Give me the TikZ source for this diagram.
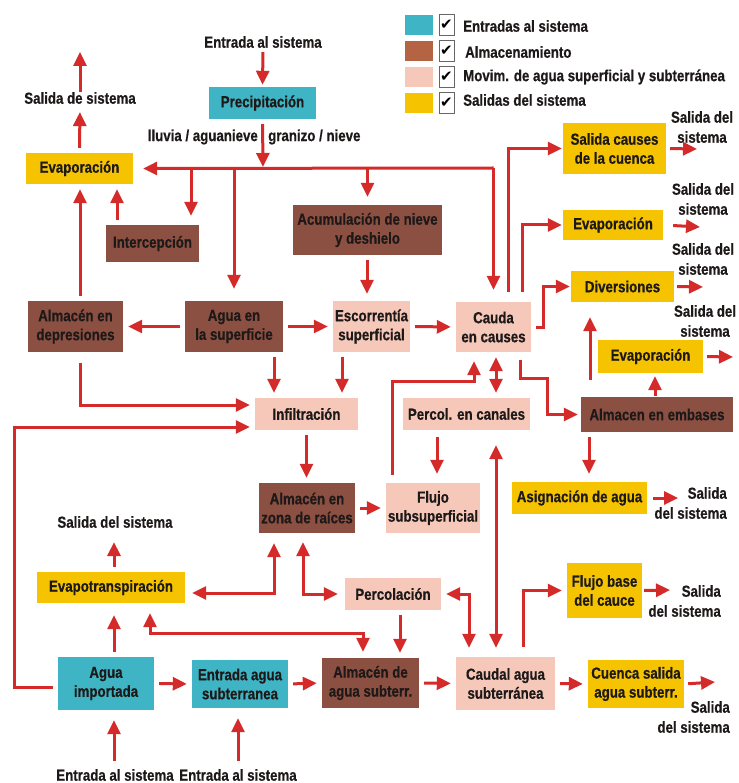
\documentclass[tikz,border=0pt]{standalone}
\usepackage{fontspec}
\setmainfont{Liberation Sans}[FakeStretch=0.83,BoldFeatures={FakeBold=0.6}]
\newfontfamily\symfont{DejaVu Sans}
\usetikzlibrary{arrows.meta,calc}
\definecolor{cteal}{RGB}{62,180,196}
\definecolor{cbrown}{RGB}{140,80,66}
\definecolor{cbrownL}{RGB}{180,100,66}
\definecolor{cpink}{RGB}{246,200,186}
\definecolor{cyellow}{RGB}{245,195,0}
\definecolor{cred}{RGB}{212,42,42}
\definecolor{ctext}{RGB}{30,25,25}
\begin{document}
\begin{tikzpicture}[x=1pt,y=-1pt,
  box/.style={inner sep=0pt, align=center, font=\bfseries\fontsize{16}{19}\selectfont, text=ctext},
  tealbox/.style={box, fill=cteal},
  brownbox/.style={box, fill=cbrown},
  pinkbox/.style={box, fill=cpink},
  yellowbox/.style={box, fill=cyellow},
  lbl/.style={inner sep=0pt, align=center, font=\bfseries\fontsize{16}{20}\selectfont, text=ctext},
  swatch/.style={minimum width=28pt, minimum height=20pt, inner sep=0pt},
  chk/.style={minimum width=15pt, minimum height=21pt, inner sep=0pt, draw=black!60, line width=0.7pt, font=\symfont\fontsize{15}{15}\selectfont},
  arr/.style={draw=cred, line width=3pt, -{Triangle[length=14pt,width=13pt]}, shorten >=5pt, shorten <=5pt},
  arrb/.style={arr, {Triangle[length=14pt,width=13pt]}-{Triangle[length=14pt,width=13pt]}}]
\useasboundingbox (0,0) rectangle (738,783);

% legend
\node[swatch, fill=cteal] (sw1) at (419,25) {};
\node[swatch, fill=cbrownL] (sw2) at (419,51) {};
\node[swatch, fill=cpink] (sw3) at (419,77) {};
\node[swatch, fill=cyellow] (sw4) at (419,103) {};
\node[chk] (c1) at (446.5,25) {✔};
\node[chk] (c2) at (446.5,51) {✔};
\node[chk] (c3) at (446.5,77) {✔};
\node[chk] (c4) at (446.5,103) {✔};
\node[lbl, anchor=west] (l1) at (463,26) {Entradas al sistema};
\node[lbl, anchor=west] (l2) at (465,52) {Almacenamiento};
\node[lbl, anchor=west] (l3) at (463,77) {Movim. de agua superficial y subterránea};
\node[lbl, anchor=west] (l4) at (463,100) {Salidas del sistema};

% boxes
\node[tealbox,minimum width=107pt,minimum height=32pt] (prec) at (262.5,103) {Precipitación};
\node[yellowbox,minimum width=107pt,minimum height=31pt] (evapL) at (79.5,168.5) {Evaporación};
\node[brownbox,minimum width=93pt,minimum height=37pt] (interc) at (152.5,243.5) {Intercepción};
\node[brownbox,minimum width=149pt,minimum height=50pt] (acum) at (367.5,230) {Acumulación de nieve\\y deshielo};
\node[brownbox,minimum width=95pt,minimum height=51pt] (depr) at (75.5,326.5) {Almacén en\\depresiones};
\node[brownbox,minimum width=98pt,minimum height=51pt] (agua) at (234,326.5) {Agua en\\la superficie};
\node[pinkbox,minimum width=77pt,minimum height=51pt] (escor) at (371.5,326.5) {Escorrentía\\superficial};
\node[pinkbox,minimum width=75pt,minimum height=50pt] (cauda) at (493.5,327) {Cauda\\en causes};
\node[yellowbox,minimum width=103pt,minimum height=51pt] (salc) at (614.5,148.5) {Salida causes\\de la cuenca};
\node[yellowbox,minimum width=100pt,minimum height=30pt] (evapR1) at (613,225) {Evaporación};
\node[yellowbox,minimum width=103pt,minimum height=31pt] (divers) at (622.5,286.5) {Diversiones};
\node[yellowbox,minimum width=105pt,minimum height=33pt] (evapR2) at (650.5,356.5) {Evaporación};
\node[brownbox,minimum width=152pt,minimum height=35pt] (embas) at (657,414.5) {Almacen en embases};
\node[pinkbox,minimum width=103pt,minimum height=32pt] (infil) at (306.5,414) {Infiltración};
\node[pinkbox,minimum width=127pt,minimum height=32pt] (percan) at (466.5,414) {Percol. en canales};
\node[brownbox,minimum width=96pt,minimum height=50pt] (raices) at (307,508) {Almacén en\\zona de raíces};
\node[pinkbox,minimum width=94pt,minimum height=50pt] (flujo) at (433,508) {Flujo\\subsuperficial};
\node[yellowbox,minimum width=135pt,minimum height=32pt] (asig) at (579.5,498) {Asignación de agua};
\node[yellowbox,minimum width=148pt,minimum height=31pt] (evapo) at (111,587.5) {Evapotranspiración};
\node[pinkbox,minimum width=96pt,minimum height=32pt] (percol) at (393,594) {Percolación};
\node[yellowbox,minimum width=75pt,minimum height=55pt] (fbase) at (604.5,590.5) {Flujo base\\del cauce};
\node[tealbox,minimum width=96pt,minimum height=53pt] (aimp) at (106,683.5) {Agua\\importada};
\node[tealbox,minimum width=96pt,minimum height=48pt] (eas) at (240,684) {Entrada agua\\subterranea};
\node[brownbox,minimum width=97pt,minimum height=50pt] (asub) at (370.5,683) {Almacén de\\agua subterr.};
\node[pinkbox,minimum width=99pt,minimum height=53pt] (caudal) at (505.5,683.5) {Caudal agua\\subterránea};
\node[yellowbox,minimum width=96pt,minimum height=48pt] (cuenca) at (636,684) {Cuenca salida\\agua subterr.};

% labels
\node[lbl] (inTop) at (263,42) {Entrada al sistema};
\node[lbl,anchor=east] (lluvia) at (258,137) {lluvia / aguanieve};
\node[lbl,anchor=west] (granizo) at (268,137) {granizo / nieve};
\node[lbl] (salTop) at (80,98) {Salida de sistema};
\coordinate (upEnd) at (80,52);
\node[lbl] (s1) at (702,127) {Salida del\\sistema};
\node[lbl] (s2) at (703,199) {Salida del\\sistema};
\node[lbl] (s3) at (703,259) {Salida del\\sistema};
\node[lbl] (s4) at (705,321) {Salida del\\sistema};
\node[lbl,align=right,anchor=east] (s5) at (727,503) {Salida\\del sistema};
\node[lbl,align=right,anchor=east] (s6) at (721,601) {Salida\\del sistema};
\node[lbl,align=right,anchor=east] (s7) at (730,717) {Salida\\del sistema};
\node[lbl] (s8) at (115,522) {Salida del sistema};
\node[lbl] (inB1) at (115,775) {Entrada al sistema};
\node[lbl] (inB2) at (238,775) {Entrada al sistema};

\coordinate (bus) at (263,168);
\coordinate (o1) at (697,149);
\coordinate (o2) at (700,227);
\coordinate (o3) at (703,287);
\coordinate (o4) at (733,357);
\coordinate (o5) at (678,498);
\coordinate (o6) at (670,590);
\coordinate (o7) at (715,682);

% top
\draw[arr,shorten <=4pt,shorten >=2pt] (inTop.south) -- (prec.north);
\draw[arr,shorten >=1pt] (prec.south) -- (bus);
\draw[arr,shorten <=0pt,shorten >=10pt] (bus -| cauda.north) -- (evapL.east);
\draw[arr,shorten <=0pt,shorten >=12pt] (bus -| cauda.north) -- (cauda.north);
\draw[arr,shorten <=0pt,shorten >=9pt] (191,0 |- bus) -- (191,0 |- interc.north);
\draw[arr,shorten <=0pt,shorten >=12pt] (234,0 |- bus) -- (agua.north);
\draw[arr,shorten <=0pt,shorten >=8pt] (bus -| acum.north) -- (acum.north);
\draw[arr,shorten >=8pt] (evapL.north) -- (salTop.south);
\draw[arr,shorten <=0pt,shorten >=0pt] (salTop.north) -- (upEnd);

% right column
\draw[arr,shorten <=10pt,shorten >=1pt] (508,0 |- cauda.north) |- (salc.west);
\draw[arr,shorten <=10pt,shorten >=1pt] (522,0 |- cauda.north) |- (evapR1.west);
\draw[arr,shorten >=1pt] (cauda.east) -- ++(12,0) |- (divers.west);
\draw[arr,shorten <=8pt,shorten >=3pt] (520,0 |- cauda.south) -- (520,378) -| (547,0 |- embas.west) -- (embas.west);
\draw[arr,shorten <=17pt,shorten >=15pt] (590,0 |- embas.north) -- (590,0 |- divers.south);
\draw[arr,shorten <=1pt,shorten >=3pt] (655,0 |- embas.north) -- (655,0 |- evapR2.south);
\draw[arr,shorten <=4pt,shorten >=0pt] (salc.east) -- (o1);
\draw[arr,shorten <=10pt,shorten >=0pt] (evapR1.east) -- (o2);
\draw[arr,shorten <=3pt,shorten >=0pt] (divers.east) -- (o3);
\draw[arr,shorten <=4pt,shorten >=0pt] (evapR2.east) -- (o4);
\draw[arr,shorten <=6pt,shorten >=0pt] (asig.east) -- (o5);
\draw[arr,shorten <=2pt,shorten >=0pt] (fbase.east) -- (o6);
\draw[arr,shorten <=4pt,shorten >=0pt] (cuenca.east) -- (o7);
\draw[arr,shorten >=8pt] (embas.south -| 589,0) -- (589,0 |- asig.north);

% left / middle
\draw[arr] (80,0 |- depr.north) -- (80,0 |- evapL.south);
\draw[arr] (117,0 |- interc.north) -- (117,0 |- evapL.south);
\draw[arr] (agua.west) -- (depr.east);
\draw[arr] (agua.east) -- (escor.west);
\draw[arr] (escor.east) -- (cauda.west);
\draw[arr,shorten >=7pt] (367,0 |- acum.south) -- (367,0 |- escor.north);
\draw[arr] (274,0 |- agua.south) -- (274,0 |- infil.north);
\draw[arr] (342,0 |- escor.south) -- (342,0 |- infil.north);
\draw[arr,shorten <=11pt] (80,0 |- depr.south) |- ($(infil.west)+(0,-9)$);
\draw[arr] ($(aimp.west)+(0,4)$) -- (14,687.5) |- ($(infil.west)+(0,13)$);
\draw[arr] (infil.south) -- (infil.south |- raices.north);
\draw[arr] (raices.east) -- (flujo.west);
\draw[arr,shorten <=8pt,shorten >=9pt] (392,0 |- flujo.north) -- (392,381) -| (474,0 |- cauda.south);
\draw[arrb] (496,0 |- cauda.south) -- (496,0 |- percan.north);
\draw[arr,shorten <=7pt,shorten >=9pt] (437,0 |- percan.south) -- (437,0 |- flujo.north);
\draw[arrb,shorten <=15pt,shorten >=9pt] (496,0 |- percan.south) -- (496,0 |- caudal.north);

% lower
\draw[arrb,shorten <=7pt,shorten >=10pt] ($(evapo.east)+(0,5.5)$) -| (274,0 |- raices.south);
\draw[arrb,shorten <=9pt,shorten >=7pt] (303,0 |- raices.south) |- (percol.west);
\draw[arr,shorten >=14pt] (114,0 |- evapo.north) -- (114,0 |- s8.south);
\draw[arr,shorten >=12pt] (114,0 |- aimp.north) -- (114,0 |- evapo.south);
\draw[arrb,shorten <=10pt,shorten >=6pt] (150,0 |- evapo.south) |- (363,633) -- (363,0 |- asub.north);
\draw[arrb,shorten >=9pt] (percol.east) -| (469,0 |- caudal.north);
\draw[arr] (400,0 |- percol.south) -- (400,0 |- asub.north);
\draw[arr] (aimp.east) -- (eas.west);
\draw[arr] (eas.east) -- (asub.west);
\draw[arr] (asub.east) -- (caudal.west);
\draw[arr] (caudal.east) -- (cuenca.west);
\draw[arr,shorten <=10pt] (523,0 |- caudal.north) |- (fbase.west);
\draw[arr,shorten <=8pt,shorten >=10pt] (114,0 |- inB1.north) -- (114,0 |- aimp.south);
\draw[arr,shorten <=8pt,shorten >=10pt] (238,0 |- inB2.north) -- (238,0 |- eas.south);
\end{tikzpicture}
\end{document}
